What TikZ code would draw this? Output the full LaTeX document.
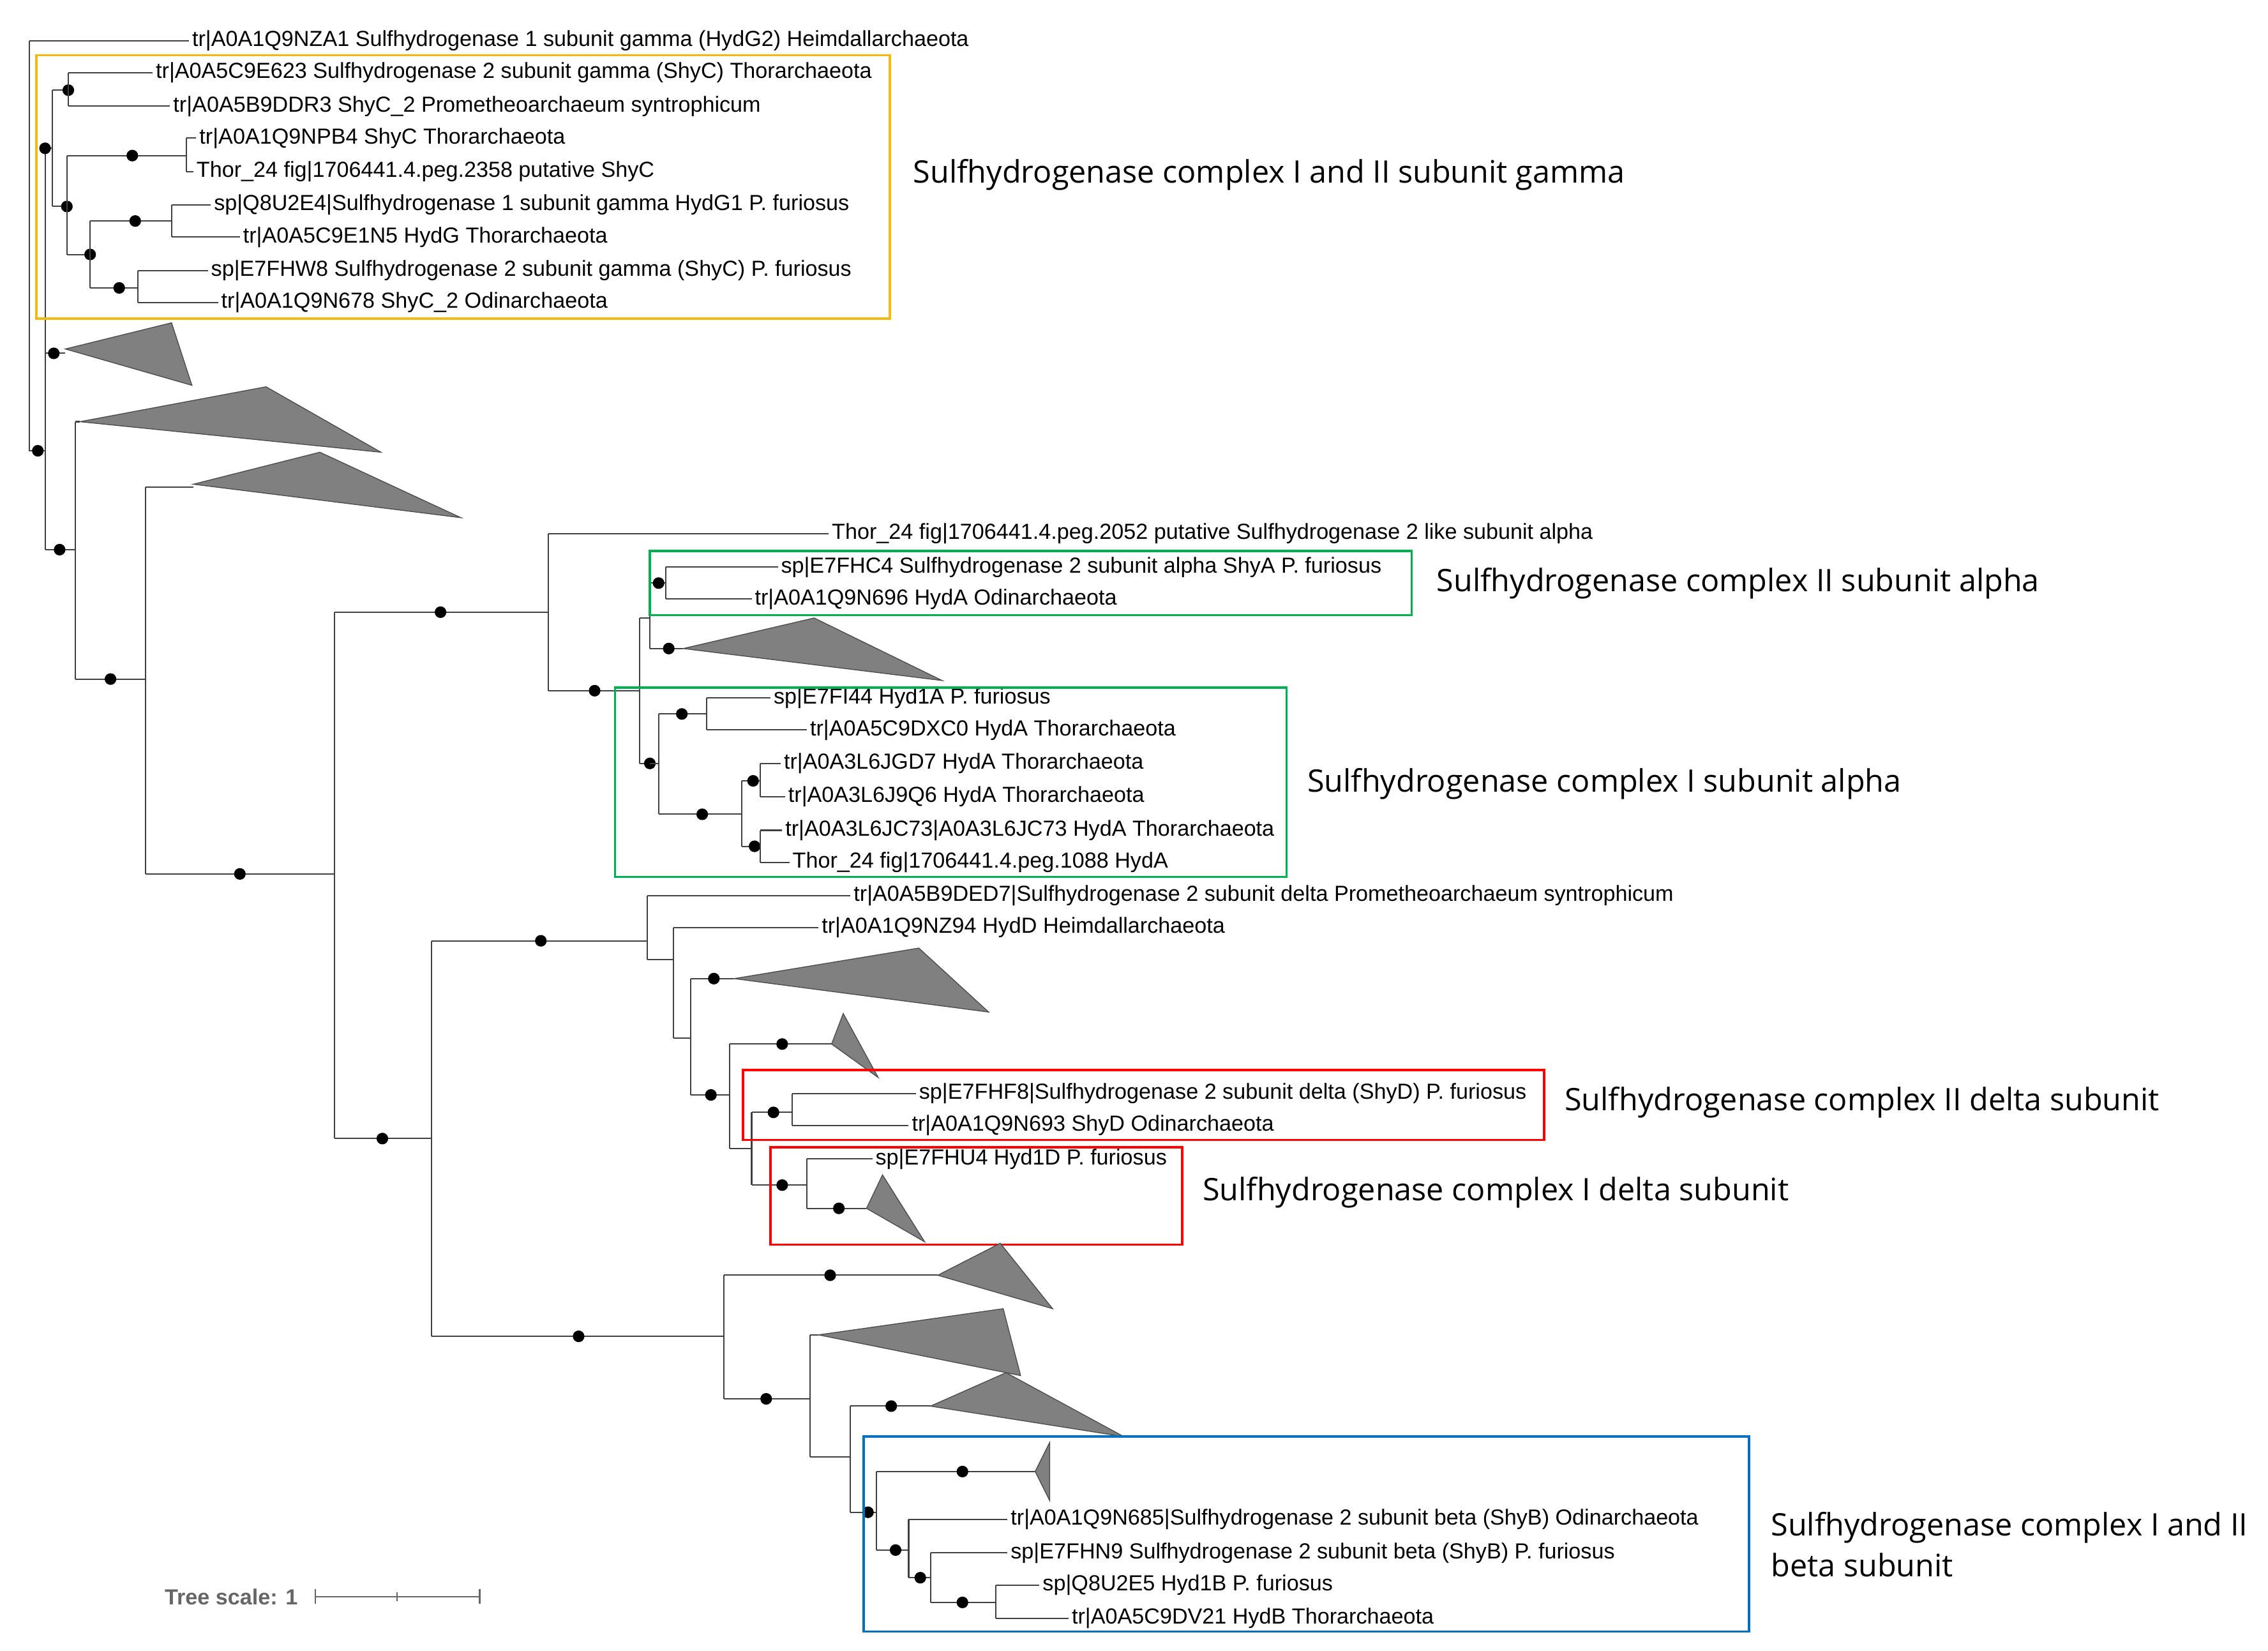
\documentclass[tikz,border=0pt]{standalone}
\usepackage{fontspec}
\setmainfont{Liberation Sans}
\newfontfamily\bigfnt{Open Sans}
\begin{document}
\begin{tikzpicture}[x=1pt,y=-1pt,
 br/.style={draw=black!75,line width=0.9pt},
 leaf/.style={anchor=west,inner sep=2pt,font=\fontsize{15}{15}\selectfont},
 big/.style={anchor=west,inner sep=0pt,font=\bigfnt\fontsize{21.3}{28}\selectfont,align=left},
 tri/.style={fill=black!50,draw=black!70,line width=0.6pt},
 box/.style={line width=1.6pt}]
\useasboundingbox (0,0) rectangle (1560,1135);
\newcommand\dt[2]{\fill (#1,#2) circle (4);}
\newcommand\lf[4]{\draw[br] (#1,#3) -- (#2,#3); \node[leaf] at (#2,#3) {#4};}
% root
\draw[br] (20,28) -- (20,310) -- (31,310);
\lf{20}{130}{28}{tr|A0A1Q9NZA1 Sulfhydrogenase 1 subunit gamma (HydG2) Heimdallarchaeota}
\dt{26}{310}
\draw[br] (31,102) -- (31,378);
\draw[br] (31,102) -- (36,102); \dt{31}{102}
% gamma clade
\draw[br] (36,62) -- (36,142);
\draw[br] (36,62) -- (47,62); \dt{47}{62}
\draw[br] (47,50) -- (47,73);
\lf{47}{105}{50}{tr|A0A5C9E623 Sulfhydrogenase 2 subunit gamma (ShyC) Thorarchaeota}
\lf{47}{117}{73}{tr|A0A5B9DDR3 ShyC\_2 Prometheoarchaeum syntrophicum}
\draw[br] (36,142) -- (46,142); \dt{46}{142}
\draw[br] (46,107) -- (46,175);
\draw[br] (46,107) -- (128,107); \dt{91}{107}
\draw[br] (128,95) -- (128,118);
\lf{128}{135}{95}{tr|A0A1Q9NPB4 ShyC Thorarchaeota}
\lf{128}{133}{118}{Thor\_24 fig|1706441.4.peg.2358 putative ShyC}
\draw[br] (46,175) -- (62,175); \dt{62}{175}
\draw[br] (62,152) -- (62,198);
\draw[br] (62,152) -- (118,152); \dt{93}{152}
\draw[br] (118,141) -- (118,163);
\lf{118}{145}{141}{sp|Q8U2E4|Sulfhydrogenase 1 subunit gamma HydG1 P. furiosus}
\lf{118}{165}{163}{tr|A0A5C9E1N5 HydG Thorarchaeota}
\draw[br] (62,198) -- (95,198); \dt{82}{198}
\draw[br] (95,186) -- (95,208);
\lf{95}{143}{186}{sp|E7FHW8 Sulfhydrogenase 2 subunit gamma (ShyC) P. furiosus}
\lf{95}{150}{208}{tr|A0A1Q9N678 ShyC\_2 Odinarchaeota}
\draw[box,draw={rgb,255:red,245;green,185;blue,20}] (25,38) rectangle (612,219);
\node[big] at (628,120) {Sulfhydrogenase complex I and II subunit gamma};
% triangles upper
\draw[br] (31,243) -- (45,243); \dt{37}{243}
\draw[tri] (45,240) -- (118,222) -- (132,265) -- cycle;
\draw[br] (31,378) -- (52,378); \dt{41}{378}
\draw[br] (52,290) -- (52,467);
\draw[tri] (55,290) -- (183,266) -- (262,311) -- cycle;
\draw[br] (52,290) -- (55,290);
\draw[br] (52,467) -- (100,467); \dt{76}{467}
\draw[br] (100,335) -- (100,601);
\draw[tri] (133,333) -- (220,311) -- (317,356) -- cycle;
\draw[br] (100,335) -- (133,335);
\draw[br] (100,601) -- (230,601); \dt{165}{601}
\draw[br] (230,421) -- (230,783);
\draw[br] (230,421) -- (377,421); \dt{303}{421}
\draw[br] (377,367) -- (377,475);
\lf{377}{570}{367}{Thor\_24 fig|1706441.4.peg.2052 putative Sulfhydrogenase 2 like subunit alpha}
\draw[br] (377,475) -- (440,475); \dt{409}{475}
\draw[br] (440,425) -- (440,525);
\draw[br] (440,425) -- (447,425);
\draw[br] (447,401) -- (447,446);
\draw[br] (447,401) -- (458,401); \dt{453}{401}
\draw[br] (458,390) -- (458,412);
\lf{458}{535}{390}{sp|E7FHC4 Sulfhydrogenase 2 subunit alpha ShyA P. furiosus}
\lf{458}{517}{412}{tr|A0A1Q9N696 HydA Odinarchaeota}
\draw[br] (447,446) -- (470,446); \dt{460}{446}
\draw[tri] (470,446) -- (560,425) -- (648,468) -- cycle;
\draw[br] (440,525) -- (447,525); \dt{447}{525}
\draw[br] (453,491) -- (453,560); \draw[br] (447,525) -- (453,525);
\draw[br] (453,491) -- (486,491); \dt{469}{491}
\draw[br] (486,480) -- (486,502);
\lf{486}{530}{480}{sp|E7FI44 Hyd1A P. furiosus}
\lf{486}{555}{502}{tr|A0A5C9DXC0 HydA Thorarchaeota}
\draw[br] (453,560) -- (510,560); \dt{483}{560}
\draw[br] (510,537) -- (510,582);
\draw[br] (510,537) -- (523,537); \dt{518}{537}
\draw[br] (523,525) -- (523,548);
\lf{523}{537}{525}{tr|A0A3L6JGD7 HydA Thorarchaeota}
\lf{523}{540}{548}{tr|A0A3L6J9Q6 HydA Thorarchaeota}
\draw[br] (510,582) -- (523,582); \dt{519}{582}
\draw[br] (523,571) -- (523,593);
\lf{523}{538}{571}{tr|A0A3L6JC73|A0A3L6JC73 HydA Thorarchaeota}
\lf{523}{543}{593}{Thor\_24 fig|1706441.4.peg.1088 HydA}
\draw[box,draw={rgb,255:red,0;green,176;blue,80}] (447,379) rectangle (971,423);
\draw[box,draw={rgb,255:red,0;green,176;blue,80}] (423,473) rectangle (885,603);
\node[big] at (988,401) {Sulfhydrogenase complex II subunit alpha};
\node[big] at (899,539) {Sulfhydrogenase complex I subunit alpha};
% delta
\draw[br] (230,783) -- (297,783); \dt{263}{783}
\draw[br] (297,647) -- (297,919);
\draw[br] (297,647) -- (445,647); \dt{372}{647}
\draw[br] (445,616) -- (445,660);
\lf{445}{585}{616}{tr|A0A5B9DED7|Sulfhydrogenase 2 subunit delta Prometheoarchaeum syntrophicum}
\draw[br] (445,660) -- (463,660);
\draw[br] (463,638) -- (463,714);
\lf{463}{563}{638}{tr|A0A1Q9NZ94 HydD Heimdallarchaeota}
\draw[br] (463,714) -- (475,714);
\draw[br] (475,673) -- (475,753);
\draw[br] (475,673) -- (505,673); \dt{491}{673}
\draw[tri] (505,673) -- (632,652) -- (680,696) -- cycle;
\draw[br] (475,753) -- (502,753); \dt{489}{753}
\draw[br] (502,718) -- (502,790);
\draw[br] (502,718) -- (572,718); \dt{538}{718}
\draw[tri] (572,718) -- (580,697) -- (604,741) -- cycle;
\draw[br] (502,790) -- (517,790);
\draw[br] (517,765) -- (517,815);
\draw[br] (517,765) -- (545,765); \dt{532}{765}
\draw[br] (545,752) -- (545,774);
\lf{545}{630}{752}{sp|E7FHF8|Sulfhydrogenase 2 subunit delta (ShyD) P. furiosus}
\lf{545}{625}{774}{tr|A0A1Q9N693 ShyD Odinarchaeota}
\draw[br] (517,815) -- (555,815); \dt{538}{815}
\draw[br] (555,797) -- (555,831);
\lf{555}{600}{797}{sp|E7FHU4 Hyd1D P. furiosus}
\draw[br] (555,831) -- (596,831); \dt{577}{831}
\draw[tri] (596,831) -- (607,808) -- (636,854) -- cycle;
\draw[box,draw=red] (511,736) rectangle (1062,784);
\draw[box,draw=red] (530,789) rectangle (813,856);
\node[big] at (1076,758) {Sulfhydrogenase complex II delta subunit};
\node[big] at (827,820) {Sulfhydrogenase complex I delta subunit};
% beta
\draw[br] (297,919) -- (498,919); \dt{398}{919}
\draw[br] (498,877) -- (498,962);
\draw[br] (498,877) -- (645,877); \dt{571}{877}
\draw[tri] (645,877) -- (688,855) -- (724,900) -- cycle;
\draw[br] (498,962) -- (557,962); \dt{527}{962}
\draw[br] (557,918) -- (557,1002);
\draw[br] (557,918) -- (563,918);
\draw[tri] (563,918) -- (690,900) -- (702,946) -- cycle;
\draw[br] (557,1002) -- (585,1002);
\draw[br] (585,967) -- (585,1040);
\draw[br] (585,967) -- (640,967); \dt{613}{967}
\draw[tri] (640,967) -- (692,944) -- (773,988) -- cycle;
\draw[br] (585,1040) -- (603,1040); \dt{597}{1040}
\draw[br] (603,1012) -- (603,1066);
\draw[br] (603,1012) -- (712,1012); \dt{662}{1012}
\draw[tri] (712,1012) -- (722,992) -- (722,1032) -- cycle;
\draw[br] (603,1066) -- (625,1066); \dt{616}{1066}
\draw[br] (625,1045) -- (625,1085);
\lf{625}{693}{1045}{tr|A0A1Q9N685|Sulfhydrogenase 2 subunit beta (ShyB) Odinarchaeota}
\draw[br] (625,1085) -- (640,1085); \dt{633}{1085}
\draw[br] (640,1068) -- (640,1102);
\lf{640}{693}{1068}{sp|E7FHN9 Sulfhydrogenase 2 subunit beta (ShyB) P. furiosus}
\draw[br] (640,1102) -- (685,1102); \dt{662}{1102}
\draw[br] (685,1090) -- (685,1113);
\lf{685}{715}{1090}{sp|Q8U2E5 Hyd1B P. furiosus}
\lf{685}{735}{1113}{tr|A0A5C9DV21 HydB Thorarchaeota}
\draw[box,draw={rgb,255:red,0;green,112;blue,192}] (594,988) rectangle (1203,1122);
\node[big] at (1218,1062) {Sulfhydrogenase complex I and II\\beta subunit};
% scale
\node[anchor=east,inner sep=0pt,text=black!60,font=\bfseries\fontsize{15}{15}\selectfont] (ts) at (205,1098) {Tree scale: 1};
\draw[black!60,line width=1pt] (217,1098) -- (330,1098) (217,1093) -- (217,1103) (273,1095) -- (273,1101) (330,1093) -- (330,1103);
\end{tikzpicture}
\end{document}
